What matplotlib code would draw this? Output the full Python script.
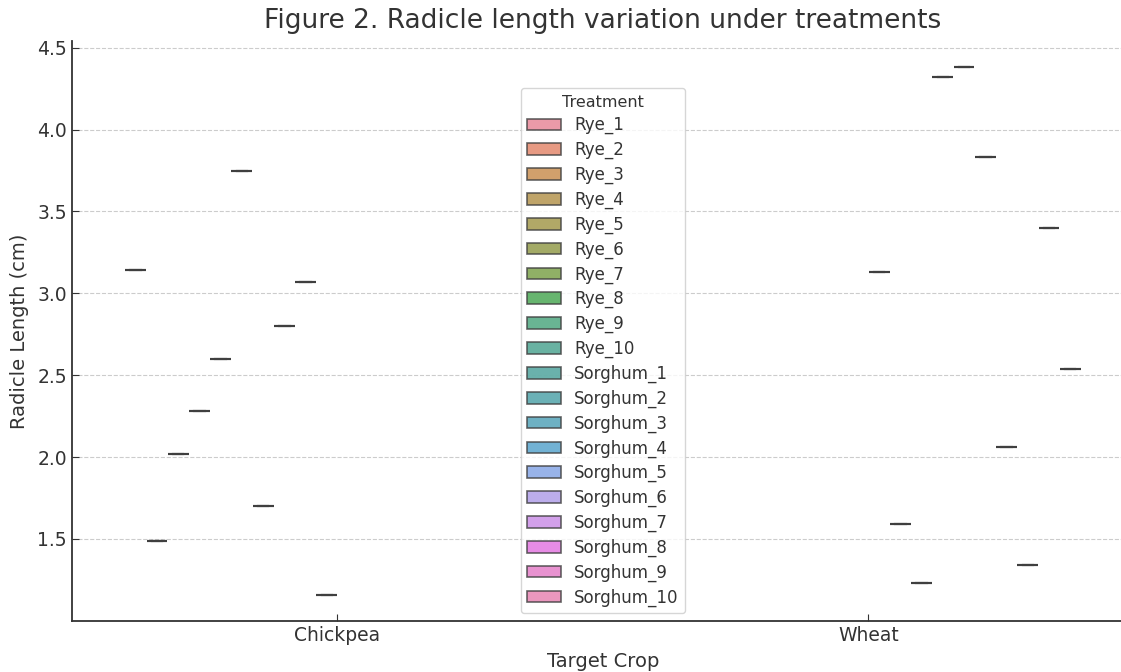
import numpy as np
import matplotlib
matplotlib.use("Agg")
import matplotlib.pyplot as plt
import matplotlib.patches as mpatches
import seaborn as sns

# crops on the x axis, treatments as hue levels
crops = ["Chickpea", "Wheat"]
treatments = ["Rye_%d" % i for i in range(1, 11)] + ["Sorghum_%d" % i for i in range(1, 11)]

# one radicle length per treatment (Rye only on Chickpea, Sorghum only on Wheat)
chickpea_rye = [3.14, 1.49, 2.02, 2.28, 2.60, 3.75, 1.70, 2.80, 3.07, 1.16]
wheat_sorghum = [3.13, 1.59, 1.23, 4.32, 4.38, 3.83, 2.06, 1.34, 3.40, 2.54]

pal = sns.color_palette("husl", len(treatments))
pal = [sns.desaturate(c, 0.75) for c in pal]

txt = "#333333"
plt.rcParams["font.family"] = "DejaVu Sans"

fig = plt.figure(figsize=(11.21, 6.72), dpi=100)
# right edge of the axes runs a little past the picture, as in the reference
ax = fig.add_axes([0.0642, 0.076, 0.9474, 0.863])

n = len(treatments)
slot = 0.8 / n
bw = slot * 0.98

def draw(ci, names, vals):
    for name, v in zip(names, vals):
        k = treatments.index(name)
        pos = ci - 0.4 + slot / 2 + k * slot
        ax.boxplot([[v]], positions=[pos], widths=bw, patch_artist=True,
                   manage_ticks=False,
                   boxprops=dict(facecolor=pal[k], edgecolor="#3f3f3f", linewidth=1.5),
                   medianprops=dict(color="#3f3f3f", linewidth=1.5),
                   whiskerprops=dict(color="#3f3f3f", linewidth=1.5),
                   capprops=dict(color="#3f3f3f", linewidth=1.5),
                   flierprops=dict(marker="d", markersize=4))

draw(0, treatments[:10], chickpea_rye)
draw(1, treatments[10:], wheat_sorghum)

ax.set_xlim(-0.5, 1.5)
allv = chickpea_rye + wheat_sorghum
pad = (max(allv) - min(allv)) * 0.05
ax.set_ylim(min(allv) - pad, max(allv) + pad)
ax.set_xticks([0, 1])
ax.set_xticklabels(crops)
ax.set_yticks([1.5, 2.0, 2.5, 3.0, 3.5, 4.0, 4.5])

ax.yaxis.grid(True, linestyle="--", color="#cccccc", linewidth=0.8)
ax.set_axisbelow(True)
for s in ["top", "right"]:
    ax.spines[s].set_visible(False)
for s in ["left", "bottom"]:
    ax.spines[s].set_color("#333333")
    ax.spines[s].set_linewidth(1.3)
ax.tick_params(direction="in", colors=txt, labelsize=13.5, length=5)

ax.set_title("Figure 2. Radicle length variation under treatments", fontsize=19, color=txt, pad=9)
ax.set_xlabel("Target Crop", fontsize=14, color=txt, labelpad=5)
ax.set_ylabel("Radicle Length (cm)", fontsize=14, color=txt, labelpad=6)

handles = [mpatches.Patch(facecolor=pal[k], edgecolor="#3f3f3f", linewidth=1.2,
                          alpha=0.8, label=t)
           for k, t in enumerate(treatments)]
leg = ax.legend(handles=handles, title="Treatment", loc="upper center",
                bbox_to_anchor=(0.5, 0.919), borderaxespad=0, fontsize=12,
                title_fontsize=11.5, labelspacing=0.395, frameon=True)
for t in leg.get_texts():
    t.set_color(txt)
leg.get_title().set_color(txt)

fig.savefig("out.png", dpi=100)
